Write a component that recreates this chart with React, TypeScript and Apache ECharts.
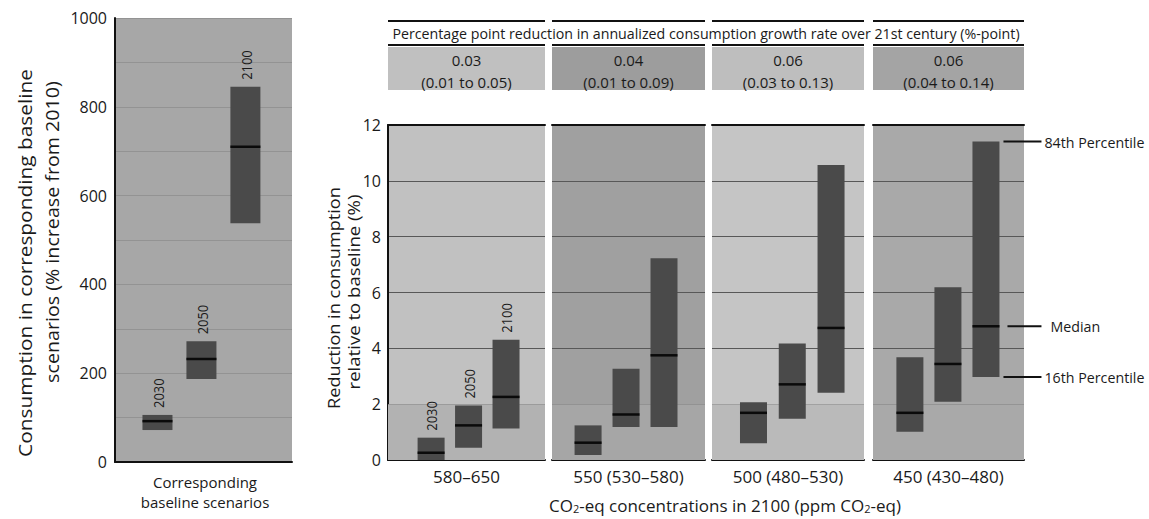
import React, { useEffect, useRef } from 'react';
import * as echarts from 'echarts';

// ---------- data ----------
const years = ['2030', '2050', '2100'];
const scenarios = ['580–650', '550 (530–580)', '500 (480–530)', '450 (430–480)'];
const headerTitle = 'Percentage point reduction in annualized consumption growth rate over 21st century (%-point)';
const growthMedian = ['0.03', '0.04', '0.06', '0.06'];
const growthRange = ['(0.01 to 0.05)', '(0.01 to 0.09)', '(0.03 to 0.13)', '(0.04 to 0.14)'];

const baselineP16 = [72, 187, 538];
const baselineMedian = [92, 232, 710];
const baselineP84 = [106, 272, 845];

const reductionP16 = [
  [0, 0.44, 1.13],
  [0.18, 1.18, 1.18],
  [0.6, 1.48, 2.41],
  [1.01, 2.09, 2.97],
];
const reductionMedian = [
  [0.26, 1.24, 2.26],
  [0.62, 1.63, 3.75],
  [1.69, 2.71, 4.73],
  [1.69, 3.44, 4.79],
];
const reductionP84 = [
  [0.8, 1.95, 4.31],
  [1.24, 3.27, 7.23],
  [2.07, 4.17, 10.57],
  [3.68, 6.19, 11.41],
];
const percentileLabels = ['84th Percentile', 'Median', '16th Percentile'];

const leftTicks = [0, 200, 400, 600, 800, 1000];
const rightTicks = [0, 2, 4, 6, 8, 10, 12];

// ---------- layout ----------
const FONT = '"Open Sans", sans-serif';
const TXT = '#1a1a1a';
const panelLeft = [388, 552, 712, 873];
const panelWidth = [157, 153, 152, 151];
const panelXMin = [-1.15, -0.95, -1.07, -0.97];
const panelXMax = [3.04, 3.08, 2.85, 3.0];
const panelBg = ['#c1c1c1', '#a0a0a0', '#c5c5c5', '#a9a9a9'];
const panelBand = ['#b2b2b2', '#a6a6a6', '#bababa', '#a9a9a9'];
const headerBg = ['#c0c0c0', '#9d9d9d', '#bebebe', '#a4a4a4'];
const PANEL_TOP = 125;
const PANEL_H = 335;
const BOX_FILL = '#4a4a4a';

function makeRender(boxW: number, showYears: boolean, annotate: boolean) {
  return (params: any, api: any) => {
    const idx = params.dataIndex;
    const x = api.value(0);
    const lo = api.coord([x, api.value(1)]);
    const med = api.coord([x, api.value(2)]);
    const hi = api.coord([x, api.value(3)]);
    const cx = lo[0];
    const children: any[] = [
      {
        type: 'rect',
        shape: { x: cx - boxW / 2, y: hi[1], width: boxW, height: lo[1] - hi[1] },
        style: { fill: BOX_FILL },
      },
      {
        type: 'line',
        shape: { x1: cx - boxW / 2, y1: med[1], x2: cx + boxW / 2, y2: med[1] },
        style: { stroke: '#0a0a0a', lineWidth: 2.5 },
      },
    ];
    if (showYears) {
      children.push({
        type: 'text',
        x: cx + 1,
        y: hi[1] - 7,
        rotation: Math.PI / 2,
        scaleX: 0.92,
        style: {
          text: years[idx],
          align: 'left',
          verticalAlign: 'middle',
          fontSize: 14,
          fontFamily: FONT,
          fill: TXT,
        },
      });
    }
    if (annotate && idx === 2) {
      const ys = [hi[1], med[1], lo[1]];
      ys.forEach((yy, k) => {
        const x1 = cx + boxW / 2 + (k === 1 ? 8 : 4);
        const x2 = cx + boxW / 2 + 42;
        children.push({
          type: 'line',
          shape: { x1, y1: yy, x2, y2: yy },
          style: { stroke: '#111', lineWidth: 2 },
        });
        children.push({
          type: 'text',
          x: x2 + (k === 1 ? 9 : 3),
          y: yy,
          scaleX: 0.95,
          originX: 0,
          style: {
            text: percentileLabels[k],
            align: 'left',
            verticalAlign: 'middle',
            fontSize: 15,
            fontFamily: FONT,
            fill: TXT,
          },
        });
      });
    }
    return { type: 'group', children };
  };
}

function measure(text: string, size: number) {
  const c = document.createElement('canvas').getContext('2d');
  if (!c) return text.length * size * 0.53;
  c.font = `${size}px "Open Sans"`;
  return c.measureText(text).width;
}

function fitText(text: string, size: number, target: number) {
  return target / measure(text, size);
}

export default function App() {
  const ref = useRef<HTMLDivElement>(null);
  useEffect(() => {
    document.body.style.margin = '0';
    if (!ref.current) return;
    const chart = echarts.init(ref.current, null, { renderer: 'svg' });

    const grids: any[] = [
      { left: 115, top: 18, width: 177, height: 444, show: true, backgroundColor: '#a7a7a7', borderWidth: 0 },
    ];
    const xAxes: any[] = [
      {
        gridIndex: 0, type: 'value', min: -0.966, max: 3.06,
        axisLine: { show: true, onZero: false, lineStyle: { color: '#111', width: 2 } },
        axisTick: { show: false }, axisLabel: { show: false }, splitLine: { show: false },
      },
    ];
    const yAxes: any[] = [
      {
        gridIndex: 0, type: 'value', min: leftTicks[0], max: leftTicks[leftTicks.length - 1], interval: 200,
        axisLine: { show: true, onZero: false, lineStyle: { color: '#111', width: 2 } },
        axisTick: { show: false },
        axisLabel: { fontSize: 16, fontFamily: FONT, color: TXT, margin: 8, formatter: (v: number) => String(v) },
        splitLine: { show: true, lineStyle: { color: 'rgba(125,125,125,0.45)', width: 1 } },
        minorTick: { show: false, splitNumber: 2 },
        minorSplitLine: { show: true, lineStyle: { color: 'rgba(125,125,125,0.45)', width: 1 } },
      },
    ];
    const series: any[] = [
      {
        type: 'custom', xAxisIndex: 0, yAxisIndex: 0, z: 5,
        renderItem: makeRender(30, true, false),
        data: years.map((_, j) => [j, baselineP16[j], baselineMedian[j], baselineP84[j]]),
      },
    ];

    scenarios.forEach((name, i) => {
      const gi = i + 1;
      grids.push({
        left: panelLeft[i], top: PANEL_TOP, width: panelWidth[i], height: PANEL_H,
        show: true, backgroundColor: panelBg[i], borderWidth: 0,
      });
      xAxes.push({
        gridIndex: gi, type: 'value', min: panelXMin[i], max: panelXMax[i],
        name, nameLocation: 'middle', nameGap: 8,
        nameTextStyle: { fontSize: 17, fontFamily: FONT, color: TXT, verticalAlign: 'top' },
        axisLine: { show: true, onZero: false, lineStyle: { color: '#111', width: 2 } },
        axisTick: { show: false }, axisLabel: { show: false }, splitLine: { show: false },
      });
      xAxes.push({
        gridIndex: gi, type: 'value', position: 'top', min: panelXMin[i], max: panelXMax[i],
        axisLine: { show: true, onZero: false, lineStyle: { color: '#111', width: 2 } },
        axisTick: { show: false }, axisLabel: { show: false }, splitLine: { show: false },
      });
      yAxes.push({
        gridIndex: gi, type: 'value', min: rightTicks[0], max: rightTicks[rightTicks.length - 1], interval: 2,
        axisLine: { show: i === 0, onZero: false, lineStyle: { color: '#111', width: 2 } },
        axisTick: { show: false },
        axisLabel: { show: i === 0, fontSize: 16, fontFamily: FONT, color: TXT, margin: 7 },
        splitLine: { show: true, lineStyle: { color: '#585858', width: 1 } },
      });
      const xIdx = xAxes.length - 2;
      const yIdx = yAxes.length - 1;
      series.push({
        type: 'line', xAxisIndex: xIdx, yAxisIndex: yIdx, data: [], z: 1, silent: true,
        markArea: {
          silent: true,
          itemStyle: { color: panelBand[i] },
          data: [[{ yAxis: 0 }, { yAxis: 2 }]],
        },
      });
      series.push({
        type: 'custom', xAxisIndex: xIdx, yAxisIndex: yIdx, z: 5,
        renderItem: makeRender(27, i === 0, i === scenarios.length - 1),
        data: years.map((_, j) => [j, reductionP16[i][j], reductionMedian[i][j], reductionP84[i][j]]),
      });
    });

    // header
    const titleSize = 15;
    const headerLeft = panelLeft[0];
    const headerRight = panelLeft[3] + panelWidth[3];
    const graphics: any[] = [];
    scenarios.forEach((_, i) => {
      graphics.push({ type: 'rect', shape: { x: panelLeft[i], y: 20, width: panelWidth[i], height: 2 }, style: { fill: '#111' } });
      graphics.push({ type: 'rect', shape: { x: panelLeft[i], y: 44, width: panelWidth[i], height: 2 }, style: { fill: '#111' } });
      graphics.push({ type: 'rect', shape: { x: panelLeft[i], y: 47, width: panelWidth[i], height: 43 }, style: { fill: headerBg[i] } });
      graphics.push({
        type: 'text', x: panelLeft[i] + panelWidth[i] / 2, y: 60,
        style: { text: growthMedian[i], align: 'center', verticalAlign: 'middle', fontSize: 15, fontFamily: FONT, fill: TXT },
      });
      graphics.push({
        type: 'text', x: panelLeft[i] + panelWidth[i] / 2, y: 82,
        style: { text: growthRange[i], align: 'center', verticalAlign: 'middle', fontSize: 15, fontFamily: FONT, fill: TXT },
      });
    });
    graphics.push({
      type: 'text', x: (headerLeft + headerRight) / 2, y: 33,
      scaleX: fitText(headerTitle, titleSize, 628), originX: 0,
      style: { text: headerTitle, align: 'center', verticalAlign: 'middle', fontSize: titleSize, fontFamily: FONT, fill: TXT },
    });
    // axis names
    const yNames = [
      { text: 'Consumption in corresponding baseline', x: 25, y: 263, len: 388, size: 18 },
      { text: 'scenarios (% increase from 2010)', x: 52, y: 232, len: 302, size: 18 },
      { text: 'Reduction in consumption', x: 333, y: 298, len: 222, size: 17 },
      { text: 'relative to baseline (%)', x: 353, y: 292, len: 195, size: 17 },
    ];
    yNames.forEach((n) => {
      graphics.push({
        type: 'text', x: n.x, y: n.y, rotation: Math.PI / 2,
        scaleX: fitText(n.text, n.size, n.len),
        style: { text: n.text, align: 'center', verticalAlign: 'middle', fontSize: n.size, fontFamily: FONT, fill: TXT },
      });
    });
    graphics.push({
      type: 'text', x: 205, y: 482,
      style: { text: 'Corresponding', align: 'center', verticalAlign: 'middle', fontSize: 15, fontFamily: FONT, fill: TXT },
    });
    graphics.push({
      type: 'text', x: 205, y: 502,
      style: { text: 'baseline scenarios', align: 'center', verticalAlign: 'middle', fontSize: 15, fontFamily: FONT, fill: TXT },
    });
    graphics.push({
      type: 'text', x: 725, y: 504,
      style: {
        text: '{n|CO}{s|2}{n|-eq concentrations in 2100 (ppm CO}{s|2}{n|-eq)}',
        align: 'center', verticalAlign: 'middle', fill: TXT,
        rich: {
          n: { fontSize: 17, fontFamily: FONT, fill: TXT, verticalAlign: 'bottom', lineHeight: 20 },
          s: { fontSize: 11, fontFamily: FONT, fill: TXT, verticalAlign: 'bottom', lineHeight: 9 },
        },
      },
    });

    chart.setOption({
      animation: false,
      backgroundColor: '#ffffff',
      grid: grids,
      xAxis: xAxes,
      yAxis: yAxes,
      series,
      graphic: graphics,
    });
    return () => chart.dispose();
  }, []);
  return <div ref={ref} style={{ width: 1149, height: 519 }} />;
}
